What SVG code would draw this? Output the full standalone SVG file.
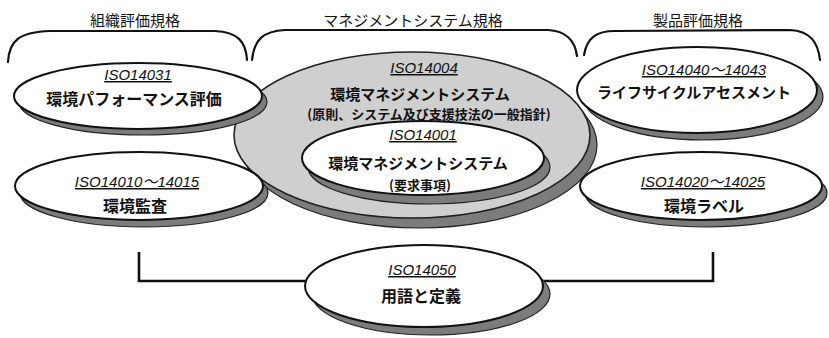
<svg xmlns="http://www.w3.org/2000/svg" width="829" height="338" viewBox="0 0 829 338">
<style>
.bg{fill:#ffffff}
.brk{fill:none;stroke:#111;stroke-width:2.2;stroke-linecap:round}
.hd{font-family:"Liberation Sans","Noto Sans CJK JP",sans-serif;font-size:15px;fill:#111;text-anchor:middle}
.iso{font-family:"Liberation Sans","Noto Sans CJK JP",sans-serif;font-size:15px;font-style:italic;fill:#111;text-anchor:middle;text-decoration:underline}
.t{font-family:"Noto Sans CJK JP",sans-serif;font-size:16px;font-weight:bold;fill:#111;text-anchor:middle}
.t2{font-family:"Noto Sans CJK JP",sans-serif;font-size:15px;font-weight:bold;fill:#111;text-anchor:middle}
.s{font-family:"Noto Sans CJK JP",sans-serif;font-size:13px;font-weight:bold;fill:#111;text-anchor:middle}
.sh{fill:#7c7c7c;stroke:#222;stroke-width:1.2}
.el{fill:#ffffff;stroke:#111;stroke-width:2}
.big{fill:#cfcfcf;stroke:#222;stroke-width:1.6}
.con{fill:none;stroke:#111;stroke-width:2.6}
</style>
<rect class="bg" x="0" y="0" width="829" height="338"/>

<g id="headings">
<path class="brk" d="M8,62 C9,40 20,32 50,31 L215,31 C238,32 246,42 247,60"/>
<path class="brk" d="M252,60 C254,40 263,31 285,30 L548,30 C566,31 575,40 577,56"/>
<path class="brk" d="M584,55 C587,38 596,31 615,31 L790,30 C810,31 818,42 820,60"/>
<text class="hd" x="135" y="26">組織評価規格</text>
<text class="hd" x="413" y="26">マネジメントシステム規格</text>
<text class="hd" x="698" y="26">製品評価規格</text>
</g>

<g id="connectors">
<path class="con" d="M139,252 L139,281 L306,281"/>
<path class="con" d="M542,281 L713,281 L713,252"/>
</g>

<g id="iso14004">
<ellipse class="sh" cx="419" cy="145" rx="178" ry="83"/>
<ellipse class="big" cx="412" cy="135" rx="178" ry="83"/>
<text class="iso" x="424" y="73">ISO14004</text>
<text class="t2" x="420" y="100">環境マネジメントシステム</text>
<text class="s" x="429" y="119">(原則、システム及び支援技法の一般指針)</text>
</g>

<g id="iso14001">
<ellipse class="sh" cx="429" cy="167" rx="121" ry="37"/>
<ellipse class="el" cx="423" cy="158" rx="121" ry="37"/>
<text class="iso" x="423" y="140">ISO14001</text>
<text class="t2" x="418" y="169">環境マネジメントシステム</text>
<text class="s" x="420" y="190">(要求事項)</text>
</g>

<g id="iso14031">
<ellipse class="sh" cx="143" cy="102" rx="124" ry="33"/>
<ellipse class="el" cx="138" cy="96" rx="124" ry="33"/>
<text class="iso" x="138" y="80">ISO14031</text>
<text class="t" x="134" y="105">環境パフォーマンス評価</text>
</g>

<g id="iso14010">
<ellipse class="sh" cx="144" cy="193" rx="124" ry="34"/>
<ellipse class="el" cx="139" cy="186" rx="124" ry="34"/>
<text class="iso" x="137" y="187">ISO14010～14015</text>
<text class="t" x="135" y="212">環境監査</text>
</g>

<g id="iso14040">
<ellipse class="sh" cx="703" cy="97" rx="120" ry="43"/>
<ellipse class="el" cx="697" cy="90" rx="120" ry="43"/>
<text class="iso" x="704" y="75">ISO14040～14043</text>
<text class="t2" x="694" y="98">ライフサイクルアセスメント</text>
</g>

<g id="iso14020">
<ellipse class="sh" cx="706" cy="193" rx="121" ry="34"/>
<ellipse class="el" cx="701" cy="186" rx="121" ry="34"/>
<text class="iso" x="703" y="187">ISO14020～14025</text>
<text class="t" x="704" y="212">環境ラベル</text>
</g>

<g id="iso14050">
<ellipse class="sh" cx="431" cy="294" rx="119" ry="41"/>
<ellipse class="el" cx="424" cy="286" rx="119" ry="41"/>
<text class="iso" x="422" y="275">ISO14050</text>
<text class="t" x="421" y="302">用語と定義</text>
</g>
</svg>
